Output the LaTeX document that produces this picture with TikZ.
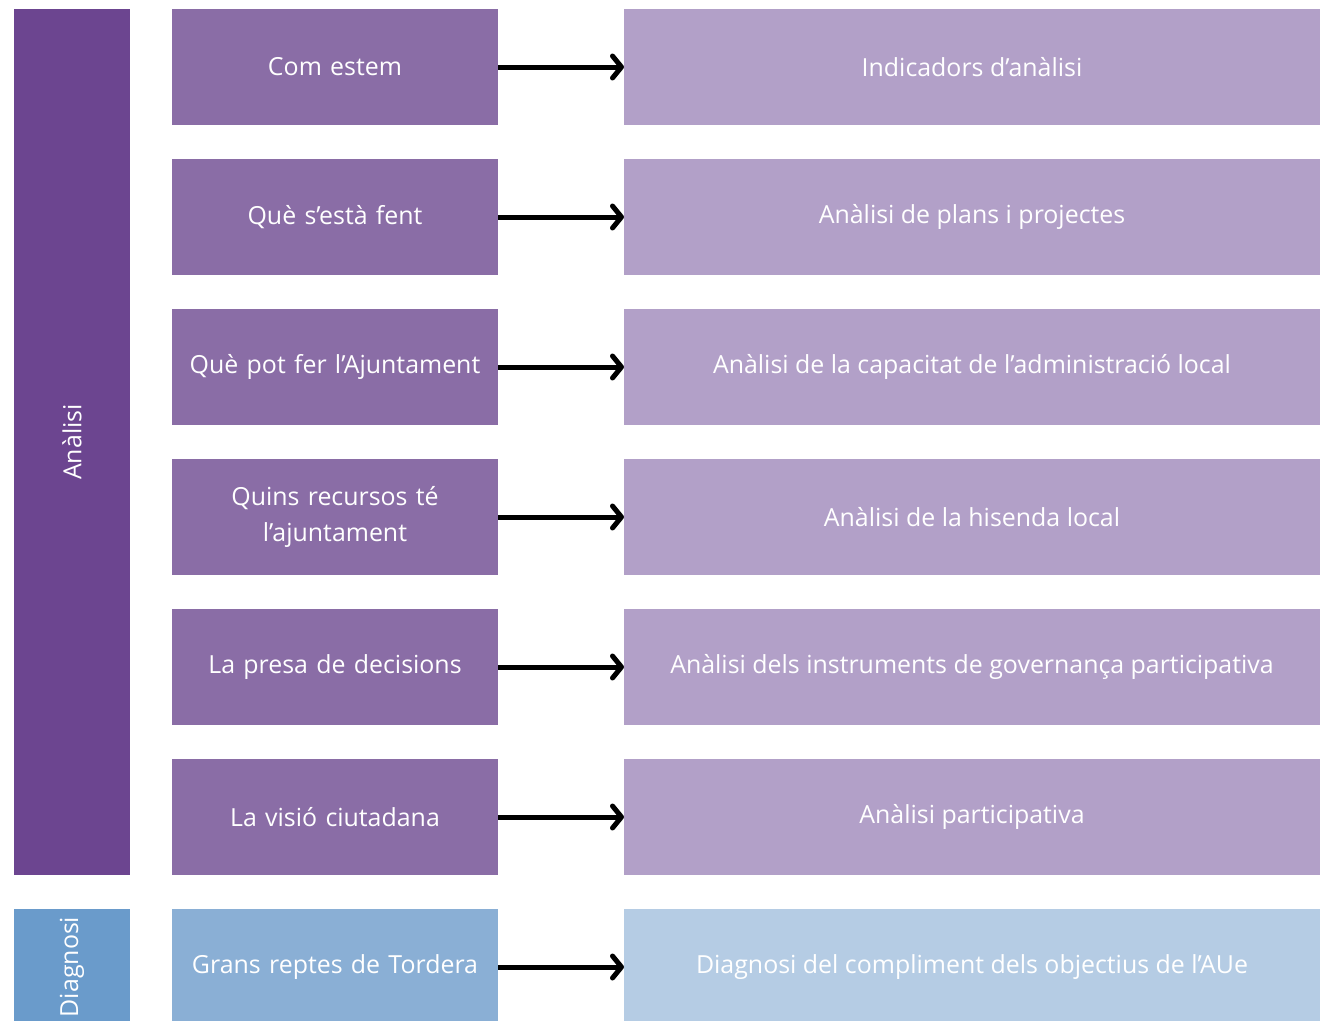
\documentclass[tikz,border=0pt]{standalone}
\usepackage{fontspec}
\setmainfont{Open Sans}
\usepackage{tikz}
\newcommand{\boxheight}{116bp}
\newcommand{\rowgap}{34bp}
\definecolor{barPurple}{HTML}{6C4590}
\definecolor{midPurple}{HTML}{8A6DA6}
\definecolor{lightPurple}{HTML}{B2A0C8}
\definecolor{barBlue}{HTML}{6A9BCB}
\definecolor{midBlue}{HTML}{8AAFD5}
\definecolor{lightBlue}{HTML}{B5CCE4}
\usetikzlibrary{arrows.meta,positioning}
\tikzset{
  font=\fontsize{25}{36}\selectfont,
  node distance=\rowgap,
  question/.style={shape=rectangle,fill=midPurple,text=white,minimum width=326bp,minimum height=\boxheight,inner sep=2mm,outer sep=0,align=center,text width=310bp},
  study/.style={shape=rectangle,fill=lightPurple,text=white,minimum width=696bp,minimum height=\boxheight,inner sep=2mm,outer sep=0,align=center},
  phase/.style={shape=rectangle,fill=barPurple,text=white,rotate=90,minimum height=116bp,inner sep=0,outer sep=0},
  line/.style={draw,-{Straight Barb[length=9bp,width=22bp,line cap=round,line join=round]},line width=5bp},
}
\begin{document}
\begin{tikzpicture}
  \useasboundingbox (0,0) rectangle (1329bp,-1021bp);
  \clip (0,0) rectangle (1329bp,-1021bp);
  % left column
  \node (q1) [question,anchor=north west] at (172bp,-9bp) {Com estem};
  \node (q2) [question,below=of q1] {Què s’està fent};
  \node (q3) [question,below=of q2] {Què pot fer l’Ajuntament};
  \node (q4) [question,below=of q3] {Quins recursos té\\l’ajuntament};
  \node (q5) [question,below=of q4] {La presa de decisions};
  \node (q6) [question,below=of q5] {La visió ciutadana};
  \node (q7) [question,below=of q6,fill=midBlue] {Grans reptes de Tordera};
  % right column
  \node (s1) [study,right=126bp of q1] {Indicadors d’anàlisi};
  \node (s2) [study,right=126bp of q2] {Anàlisi de plans i projectes};
  \node (s3) [study,right=126bp of q3] {Anàlisi de la capacitat de l’administració local};
  \node (s4) [study,right=126bp of q4] {Anàlisi de la hisenda local};
  \node (s5) [study,right=126bp of q5] {Anàlisi dels instruments de governança participativa};
  \node (s6) [study,right=126bp of q6] {Anàlisi participativa};
  \node (s7) [study,right=126bp of q7,fill=lightBlue] {Diagnosi del compliment dels objectius de l’AUe};
  % phases
  \node (analisi) [phase,minimum width=866bp] at (72bp,-442bp) {Anàlisi};
  \node (diagnosi) [phase,fill=barBlue,minimum width=\boxheight] at (q7 -| analisi) {Diagnosi};
  \foreach \i in {1,...,7}
    \path [line] (q\i) -- (s\i);
\end{tikzpicture}
\end{document}
